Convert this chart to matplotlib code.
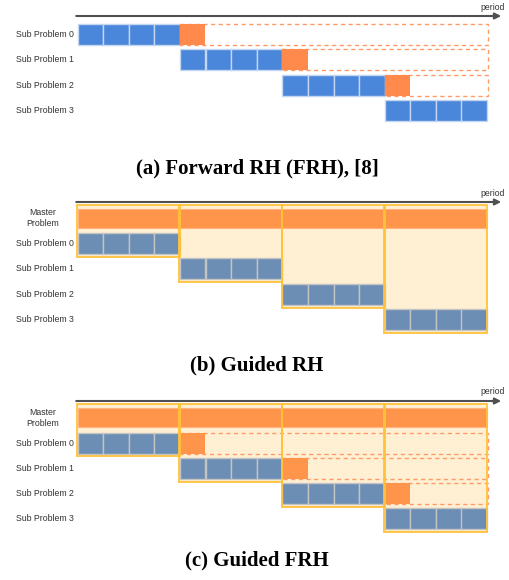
import matplotlib as mpl
import matplotlib.pyplot as plt
from matplotlib.patches import Rectangle

mpl.rcParams['font.family'] = 'Liberation Sans'

# data ------------------------------------------------------------------------
sub_labels = ['Sub Problem 0', 'Sub Problem 1', 'Sub Problem 2', 'Sub Problem 3']
master_label = 'Master\nProblem'
sub_start = [0, 4, 8, 12]   # first period of each sub problem
sub_len = 4                 # periods solved in detail
look_len = 1                # aggregated look-ahead period
horizon = 16
captions = ['(a) Forward RH (FRH), [8]', '(b) Guided RH', '(c) Guided FRH']

# figure geometry (pixels) -----------------------------------------------------
W, H = 509, 580
X0, CW = 77.5, 25.6         # pixel x of period 0, pixel width of one period
panels = [
    # top, bottom, y of sub row 0, row pitch, y of time axis, caption y, master, forward
    dict(top=0, bot=150, row0=34.5, pitch=25.4, axy=16, cap=168, master=False, fwd=True),
    dict(top=185, bot=345, row0=243.5, pitch=25.4, axy=202, cap=365, master=True, fwd=False),
    dict(top=380, bot=540, row0=443.0, pitch=25.3, axy=401, cap=560, master=True, fwd=True),
]

blue_a, edge_a = '#4A86DA', '#C3D6F2'
blue_g, edge_g = '#6C8EB4', '#C4C4C4'
orange_a = '#FF8A4C'
orange_g = '#FF954A'
dash_c = '#FF9A66'
frame_c = '#FFC23A'
cream = '#FFF0D4'
axis_c = '#505050'

fig = plt.figure(figsize=(W / 100, H / 100), dpi=100)

# draw one panel ---------------------------------------------------------------
def draw_panel(p, guided, caption):
    pitch = p['pitch']
    ax = fig.add_axes([0, 1 - p['bot'] / H, 1, (p['bot'] - p['top']) / H])
    ax.set_xlim(-X0 / CW, (W - X0) / CW)
    ax.set_ylim((p['bot'] - p['row0']) / pitch, (p['top'] - p['row0']) / pitch)
    ax.axis('off')

    blue, edge = (blue_g, edge_g) if guided else (blue_a, edge_a)
    orange = orange_g if guided else orange_a
    bh = 21.0 / pitch
    n = len(sub_start)

    if p['master']:
        ftop = -1 - 13.5 / pitch
        for k, s in enumerate(sub_start):
            fb = k + 13.5 / pitch
            ax.add_patch(Rectangle((s, ftop), sub_len, fb - ftop, fc=cream,
                                   ec='none', zorder=1))
            ax.add_patch(Rectangle((s - 0.03, ftop), sub_len + 0.03, fb - ftop,
                                   fc='none', ec=frame_c, lw=1.3, zorder=5))
        mh = 19.0 / pitch
        ax.add_patch(Rectangle((0, -1 - mh / 2), horizon, mh, fc=orange,
                               ec='#FFB380', lw=0.8, zorder=2))
        ax.text(-1.36, -1, master_label, ha='center', va='center',
                fontsize=6.3, color='#333333', linespacing=1.25)

    for k, s in enumerate(sub_start):
        for j in range(sub_len):
            ax.add_patch(Rectangle((s + j, k - bh / 2), 1, bh, fc=blue, ec=edge,
                                   lw=1.0, zorder=3))
        if p['fwd'] and k < n - 1:
            e = s + sub_len
            ax.add_patch(Rectangle((e, k - bh / 2), horizon - e + 0.05, bh,
                                   fc='none', ec=dash_c, lw=1.0,
                                   ls=(0, (3, 2.5)), zorder=3))
            ax.add_patch(Rectangle((e, k - bh / 2), look_len, bh, fc=orange,
                                   ec='none', zorder=4))
        ax.text(-0.14, k, sub_labels[k], ha='right', va='center',
                fontsize=6.3, color='#333333')

    ay = (p['axy'] - p['row0']) / pitch
    ax.annotate('', xy=(16.55, ay), xytext=(-0.05, ay),
                arrowprops=dict(arrowstyle='-|>', color=axis_c, lw=1.5,
                                mutation_scale=9, shrinkA=0, shrinkB=0))
    ax.text(16.7, ay - 9 / pitch, 'period', ha='right', va='center',
            fontsize=6.2, color='#333333')

    fig.text(257 / W, 1 - p['cap'] / H, caption, ha='center', va='center',
             fontsize=15, fontweight='bold', family='Liberation Serif')

for i, p in enumerate(panels):
    draw_panel(p, i > 0, captions[i])

fig.savefig('out.png', dpi=100)
